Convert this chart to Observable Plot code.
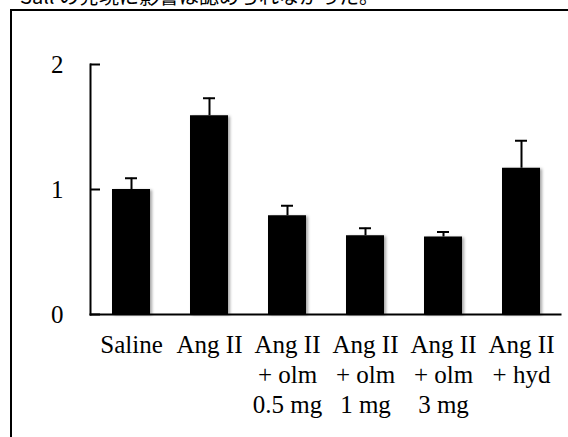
<!DOCTYPE html>
<html><head><meta charset="utf-8">
<script src="https://cdn.jsdelivr.net/npm/d3@7"></script>
<script src="https://cdn.jsdelivr.net/npm/@observablehq/plot@0.6"></script>
<style>
html,body{margin:0;padding:0;background:#fff;overflow:hidden;width:568px;height:437px}
#cap{position:absolute;left:20px;top:-16px;font-size:20px;line-height:24px;font-family:"Noto Sans CJK JP",sans-serif;white-space:nowrap;color:#000}
#box{position:absolute;left:10px;top:9px;width:700px;height:700px;border:2px solid #000;box-sizing:border-box}
#chart{position:absolute;left:0;top:0}
#chart svg, #chart svg text{font-family:"Liberation Serif","Times New Roman",serif !important}
</style></head><body>
<div id="cap">Sall の発現に影響は認められなかった。</div>
<div id="box"></div>
<div id="chart"></div>
<script>
const groups = ["Saline", "Ang II", "Ang II\n+ olm\n0.5 mg", "Ang II\n+ olm\n1 mg", "Ang II\n+ olm\n3 mg", "Ang II\n+ hyd"];
const means = [1.00, 1.59, 0.79, 0.63, 0.62, 1.17];
const errors = [0.09, 0.14, 0.08, 0.06, 0.04, 0.22];
const yTicks = [0, 1, 2];

const data = groups.map((g, i) => ({group: g, mean: means[i], hi: means[i] + errors[i]}));

const chart = Plot.plot({
  width: 568, height: 437,
  marginLeft: 90, marginRight: 8, marginTop: 64, marginBottom: 123,
  style: {fontFamily: "'Liberation Serif', 'Times New Roman', serif", background: "transparent", color: "#000"},
  x: {domain: groups, range: [92, 561], paddingInner: 0.51, paddingOuter: 0.255, label: null},
  y: {domain: [0, 2], label: null},
  marks: [
    Plot.barY(data, {x: "group", y: "mean", fill: "#000"}),
    Plot.ruleX(data, {x: "group", y1: "mean", y2: "hi", stroke: "#000", strokeWidth: 2}),
    Plot.tickY(data, {x: "group", y: "hi", stroke: "#000", strokeWidth: 2, inset: 13}),
    Plot.axisY({ticks: yTicks, tickSize: -10, tickPadding: 37, fontSize: 25, strokeWidth: 2, tickFormat: d3.format("d"), label: null}),
    Plot.axisX({tickSize: 0, tickPadding: 17, fontSize: 25, lineHeight: 1.2, label: null}),
    Plot.frame({anchor: "left", strokeWidth: 2}),
    Plot.frame({anchor: "bottom", strokeWidth: 2})
  ]
});
document.getElementById("chart").appendChild(chart);
d3.select(chart).select('g[aria-label="bar"]').style("filter", "drop-shadow(2px 1px 1.5px rgba(0,0,0,0.35))");
</script>
</body></html>
